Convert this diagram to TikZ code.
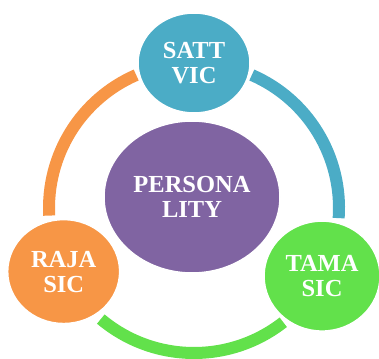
\documentclass[tikz,border=0pt]{standalone}
\usepackage{fontspec}
\setmainfont{Liberation Serif}
\usetikzlibrary{shapes.geometric}
\definecolor{cblue}{HTML}{4BACC6}
\definecolor{corange}{HTML}{F79646}
\definecolor{cpurple}{HTML}{8064A2}
\definecolor{cgreen}{HTML}{62E14B}
\begin{document}
\begin{tikzpicture}[x=1pt,y=1pt,
  bubble/.style={ellipse, draw=white, line width=1.5pt, inner sep=0pt, text=white,
    font=\bfseries\fontsize{24.5}{25}\selectfont, align=center},
  ringarc/.style={line width=12pt}]
\useasboundingbox (0,0) rectangle (379,358);
\coordinate (c) at (194,150);
% ring arcs
\draw[ringarc, corange] ([shift={(113.5:145)}]c) arc[start angle=113.5, end angle=183, radius=145];
\draw[ringarc, cblue] ([shift={(66.5:145)}]c) arc[start angle=66.5, end angle=-4, radius=145];
\draw[ringarc, cgreen] ([shift={(230:145)}]c) arc[start angle=230, end angle=308, radius=145];
% nodes
\node[bubble, fill=cpurple, minimum width=176pt, minimum height=152pt] (pers) at (192,161) {PERSONA\\LITY};
\node[bubble, fill=cblue, minimum width=112pt, minimum height=100pt] (satt) at ([shift={(90:145)}]c) {SATT\\VIC};
\node[bubble, fill=corange, minimum width=112pt, minimum height=104pt] (raja) at ([shift={(206:145)}]c) {RAJA\\SIC};
\node[bubble, fill=cgreen, minimum width=116pt, minimum height=110pt] (tama) at ([shift={(-28:145)}]c) {TAMA\\SIC};
\end{tikzpicture}
\end{document}
